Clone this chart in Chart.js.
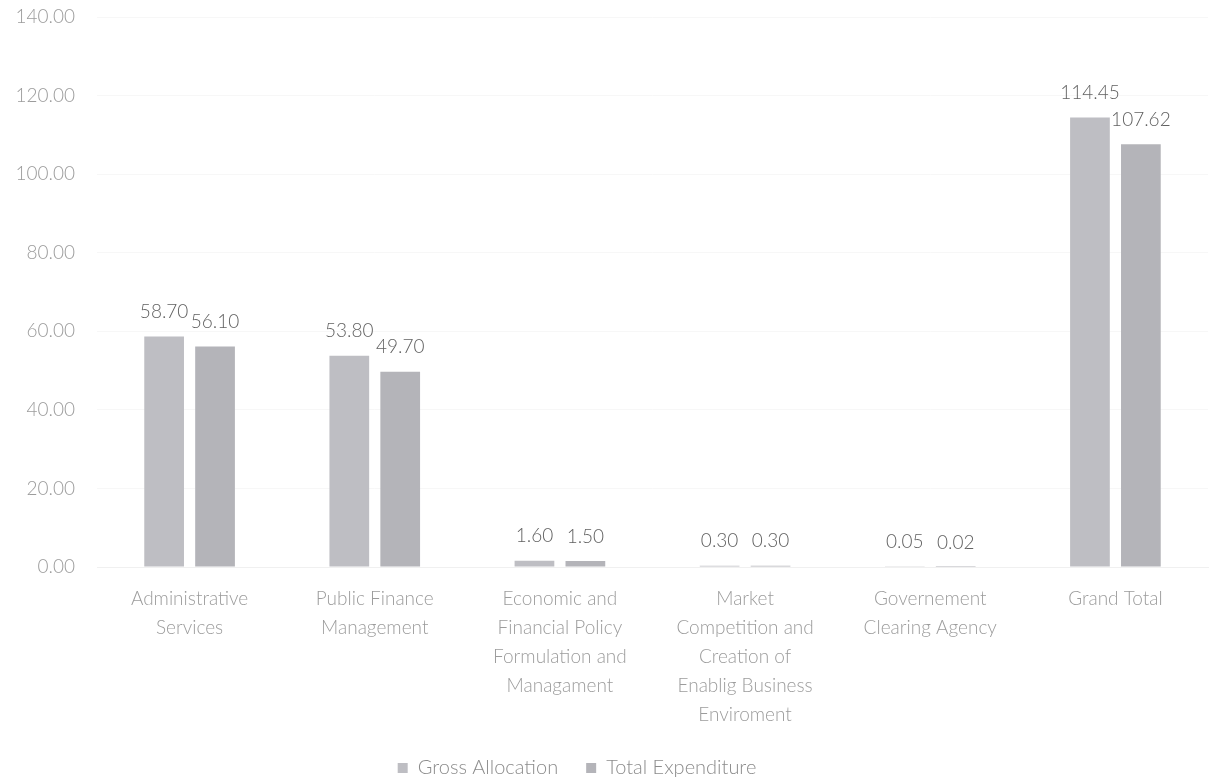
<!DOCTYPE html>
<html>
<head>
<meta charset="utf-8">
<script src="https://cdn.jsdelivr.net/npm/chart.js@4/dist/chart.umd.min.js"></script>
<style>
  html, body { margin: 0; padding: 0; background: #ffffff; }
  #wrap { width: 1227px; height: 779px; }
</style>
</head>
<body>
<div id="wrap"><canvas id="chart-1" width="1227" height="779"></canvas></div>
<script>
const categories = [
  ["Administrative", "Services"],
  ["Public Finance", "Management"],
  ["Economic and", "Financial Policy", "Formulation and", "Managament"],
  ["Market", "Competition and", "Creation of", "Enablig Business", "Enviroment"],
  ["Governement", "Clearing Agency"],
  ["Grand Total"],
];
const grossAllocation = [58.7, 53.8, 1.6, 0.3, 0.05, 114.45];
const totalExpenditure = [56.1, 49.7, 1.5, 0.3, 0.02, 107.62];
const seriesNames = ["Gross Allocation", "Total Expenditure"];

const fontFamily = "Lato, 'Open Sans', sans-serif";

// values printed above each bar
const valueLabels = {
  id: "valueLabels",
  afterDatasetsDraw(chart) {
    const ctx = chart.ctx;
    ctx.save();
    ctx.font = "300 19px " + fontFamily;
    ctx.fillStyle = "#626262";
    ctx.textAlign = "center";
    ctx.textBaseline = "bottom";
    chart.data.datasets.forEach((ds, i) => {
      chart.getDatasetMeta(i).data.forEach((bar, j) => {
        ctx.fillText(ds.data[j].toFixed(2), bar.x, bar.y - 15);
      });
    });
    ctx.restore();
  },
};

// legend in the original sits a little left of centre
const legendShift = {
  id: "legendShift",
  afterLayout(chart) {
    chart.legend.left -= 27;
    chart.legend.right -= 27;
  },
};

const ctx_1 = document.getElementById("chart-1");
new Chart(ctx_1, {
  type: "bar",
  data: {
    labels: categories,
    datasets: [
      {
        label: seriesNames[0],
        data: grossAllocation,
        backgroundColor: "#bebec3",
      },
      {
        label: seriesNames[1],
        data: totalExpenditure,
        backgroundColor: "#b4b4b9",
      },
    ],
  },
  options: {
    responsive: false,
    animation: { duration: 0 },
    devicePixelRatio: 1,
    categoryPercentage: 0.55,
    barPercentage: 0.78,
    layout: {
      padding: { top: 0, right: 19, left: 0, bottom: -9 },
    },
    scales: {
      x: {
        grid: { display: false, drawTicks: false },
        border: { color: "#f0f0f0" },
        ticks: {
          color: "#9c9c9c",
          padding: 17,
          maxRotation: 0,
          autoSkip: false,
          font: { family: fontFamily, size: 19, weight: "300", lineHeight: 1.53 },
        },
        afterFit(scale) {
          scale.height = 163;
        },
      },
      y: {
        min: 0,
        max: 140,
        grid: { color: "#f7f7f7", drawTicks: false },
        border: { display: false },
        ticks: {
          stepSize: 20,
          color: "#9c9c9c",
          padding: 22,
          font: { family: fontFamily, size: 19, weight: "300" },
          callback: (v) => v.toFixed(2),
        },
        afterFit(scale) {
          scale.width = 97;
          scale.paddingTop = 17;
        },
      },
    },
    plugins: {
      tooltip: { enabled: false },
      legend: {
        position: "bottom",
        labels: {
          color: "#8c8c8c",
          boxWidth: 10,
          boxHeight: 10,
          padding: 28,
          font: { family: fontFamily, size: 20, weight: "300" },
        },
      },
    },
  },
  plugins: [valueLabels, legendShift],
});
</script>
</body>
</html>
